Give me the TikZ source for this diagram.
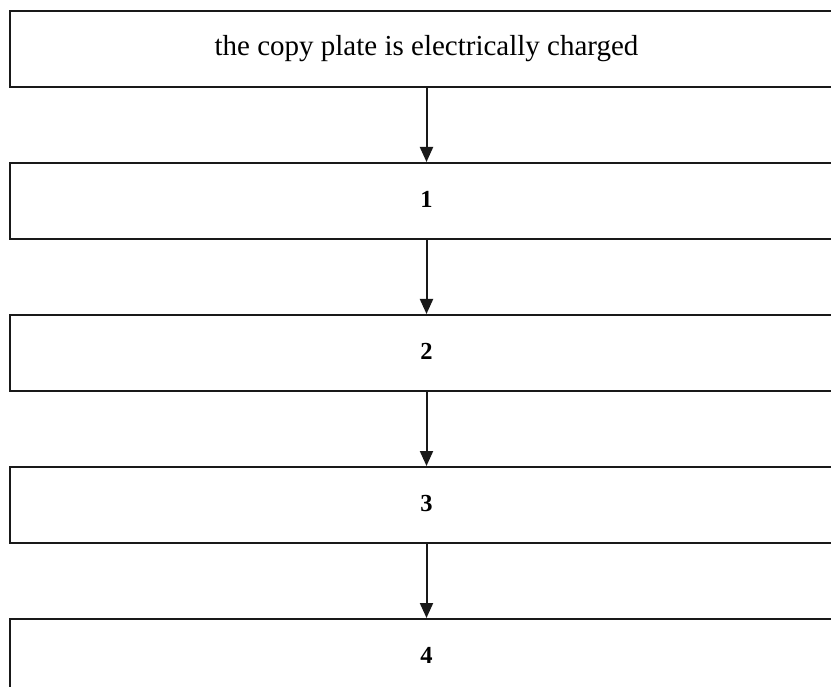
\documentclass[tikz,border=0pt]{standalone}
\usepackage{fontspec}
\setmainfont{Liberation Serif}
\usetikzlibrary{arrows.meta}
\begin{document}
\begin{tikzpicture}[x=1pt,y=1pt,
  stepbox/.style={draw=black!90, line width=2pt, rectangle, minimum width=833pt, minimum height=76pt, inner sep=0pt, font=\fontsize{29}{34}\selectfont},
  numtext/.style={font=\fontsize{24.5}{28}\selectfont\bfseries},
  conn/.style={line width=2pt, draw=black!90, -{Triangle[length=15pt,width=13pt]}}]
\useasboundingbox (0,0) rectangle (831,-687);
\clip (0,0) rectangle (831,-687);
\node[stepbox] (b0) at (426.5,-49) {the copy plate is electrically charged};
\node[stepbox] (b1) at (426.5,-201) {};
\node[stepbox] (b2) at (426.5,-353) {};
\node[stepbox] (b3) at (426.5,-505) {};
\node[stepbox] (b4) at (426.5,-657) {};
\node[numtext] (t1) at ([yshift=1.5pt]b1.center) {1};
\node[numtext] (t2) at ([yshift=1.5pt]b2.center) {2};
\node[numtext] (t3) at ([yshift=1.5pt]b3.center) {3};
\node[numtext] (t4) at ([yshift=1.5pt]b4.center) {4};
\draw[conn] (b0.south) -- (b1.north);
\draw[conn] (b1.south) -- (b2.north);
\draw[conn] (b2.south) -- (b3.north);
\draw[conn] (b3.south) -- (b4.north);
\end{tikzpicture}
\end{document}
